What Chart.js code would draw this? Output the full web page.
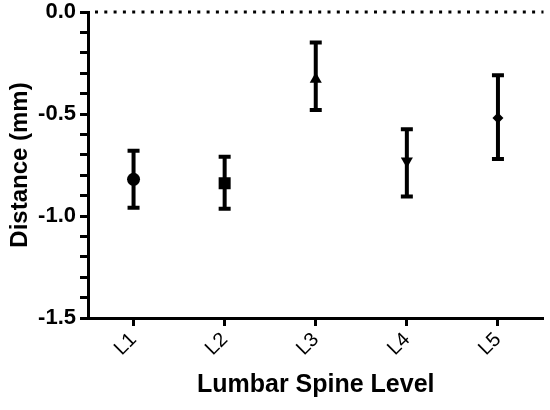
<!DOCTYPE html>
<html>
<head>
<meta charset="utf-8">
<script src="https://cdn.jsdelivr.net/npm/chart.js@4.4.0/dist/chart.umd.min.js"></script>
<style>
  body { margin: 0; background: #fff; }
  #wrap { width: 550px; height: 410px; }
</style>
</head>
<body>
<div id="wrap"><canvas id="myChart" width="550" height="410"></canvas></div>
<script>
const levels = ['L1', 'L2', 'L3', 'L4', 'L5'];
const meanDist = [-0.82, -0.84, -0.33, -0.73, -0.52];
const upperDist = [-0.68, -0.71, -0.15, -0.575, -0.31];
const lowerDist = [-0.96, -0.965, -0.48, -0.905, -0.72];
const markers = ['circle', 'rect', 'triangle', 'triangle', 'rectRot'];
const markerRot = [0, 0, 0, 180, 0];
const yTicks = [0, -0.5, -1.0, -1.5];

const fontName = '"Liberation Sans", Arial, sans-serif';

// error bars + dotted zero line
const errorBars = {
  id: 'errorBars',
  beforeDatasetsDraw(chart) {
    const ctx = chart.ctx;
    const x = chart.scales.x;
    const y = chart.scales.y;
    const area = chart.chartArea;

    ctx.save();
    ctx.strokeStyle = '#000';
    ctx.lineWidth = 3;
    ctx.setLineDash([3, 6.3]);
    const y0 = y.getPixelForValue(0);
    ctx.beginPath();
    ctx.moveTo(area.left + 7, y0);
    ctx.lineTo(area.right, y0);
    ctx.stroke();
    ctx.setLineDash([]);

    ctx.lineWidth = 4;
    for (let i = 0; i < levels.length; i++) {
      const px = x.getPixelForValue(i);
      const top = y.getPixelForValue(upperDist[i]);
      const bot = y.getPixelForValue(lowerDist[i]);
      ctx.beginPath();
      ctx.moveTo(px, top);
      ctx.lineTo(px, bot);
      ctx.moveTo(px - 6, top);
      ctx.lineTo(px + 6, top);
      ctx.moveTo(px - 6, bot);
      ctx.lineTo(px + 6, bot);
      ctx.stroke();
    }
    ctx.restore();
  }
};

const ctx = document.getElementById('myChart');
const myChart = new Chart(ctx, {
  type: 'line',
  data: {
    labels: levels,
    datasets: [{
      data: meanDist,
      showLine: false,
      pointStyle: markers,
      rotation: markerRot,
      pointRadius: [6.5, 8.5, 7, 7, 5.5],
      backgroundColor: '#000',
      borderColor: '#000',
      pointBorderWidth: 0
    }]
  },
  options: {
    responsive: false,
    animation: false,
    layout: { padding: { top: 0, right: 0, left: 2, bottom: 6 } },
    plugins: {
      legend: { display: false },
      tooltip: { enabled: false }
    },
    scales: {
      x: {
        offset: true,
        afterFit(scale) {
          scale.height = 86;
          scale.paddingRight = 0;
        },
        grid: { display: true, drawOnChartArea: false, tickLength: 8, tickWidth: 3, tickColor: '#000', offset: false },
        border: { color: '#000', width: 3 },
        ticks: {
          color: '#000',
          autoSkip: false,
          font: { family: fontName, size: 20 },
          maxRotation: 45,
          minRotation: 45,
          padding: 2
        },
        title: {
          display: true,
          text: 'Lumbar Spine Level',
          color: '#000',
          font: { family: fontName, size: 25, weight: 'bold' },
          padding: { top: 4 }
        }
      },
      y: {
        min: -1.5,
        max: 0,
        afterFit(scale) {
          scale.width = 86;
          scale.paddingTop = 12;
        },
        afterBuildTicks(scale) {
          const t = [];
          for (let i = 0; i <= 15; i++) t.push({ value: -i / 10 });
          scale.ticks = t;
        },
        grid: { display: true, drawOnChartArea: false, tickLength: 8, tickWidth: 3, tickColor: '#000' },
        border: { color: '#000', width: 3 },
        ticks: {
          color: '#000',
          autoSkip: false,
          font: { family: fontName, size: 22, weight: 'bold', lineHeight: 0.9 },
          padding: 4,
          callback(v) {
            const r = Math.round(v * 10) / 10;
            return yTicks.some(t => Math.abs(t - r) < 1e-6) ? r.toFixed(1) : '';
          }
        },
        title: {
          display: true,
          text: 'Distance (mm)',
          color: '#000',
          font: { family: fontName, size: 24, weight: 'bold' },
          padding: { bottom: 4 }
        }
      }
    }
  },
  plugins: [errorBars]
});
</script>
</body>
</html>
